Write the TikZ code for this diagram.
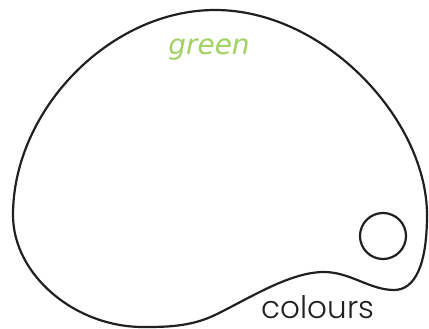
\documentclass[tikz,border=0pt]{standalone}
\usepackage{fontspec}
\newfontfamily\geo{Poppins Light}
\newfontfamily\hand{DejaVu Sans}
\definecolor{leaf}{HTML}{A2D163}
\definecolor{ink}{HTML}{231F20}
\begin{document}
\begin{tikzpicture}[x=1pt,y=-1pt,
  outline/.style={draw=ink,line width=2.2pt},
  label/.style={inner sep=0pt,anchor=base}]
\useasboundingbox (0,0) rectangle (429,329);
\coordinate (top) at (215,10);
\coordinate (right) at (427,215);
\coordinate (dip) at (394,290);
\coordinate (bump) at (324,272);
\coordinate (mid) at (215,315);
\coordinate (bottom) at (143,327);
\coordinate (left) at (13,215);
\draw[outline] (top) .. controls (325,10) and (427,120) .. (right)
  .. controls (427,265) and (415,290) .. (dip)
  .. controls (370,290) and (350,272) .. (bump)
  .. controls (290,272) and (250,298) .. (mid)
  .. controls (190,327) and (165,327) .. (bottom)
  .. controls (75,327) and (13,275) .. (left)
  .. controls (13,110) and (110,10) .. (top) -- cycle;
\draw[outline] (383,236) circle (23);
\node[label,text=leaf] (green) at (209,55) {\hand\itshape\fontsize{28}{28}\selectfont green};
\node[label,text=ink] (colours) at (318,318) {\geo\fontsize{31}{31}\selectfont colours};
\end{tikzpicture}
\end{document}
